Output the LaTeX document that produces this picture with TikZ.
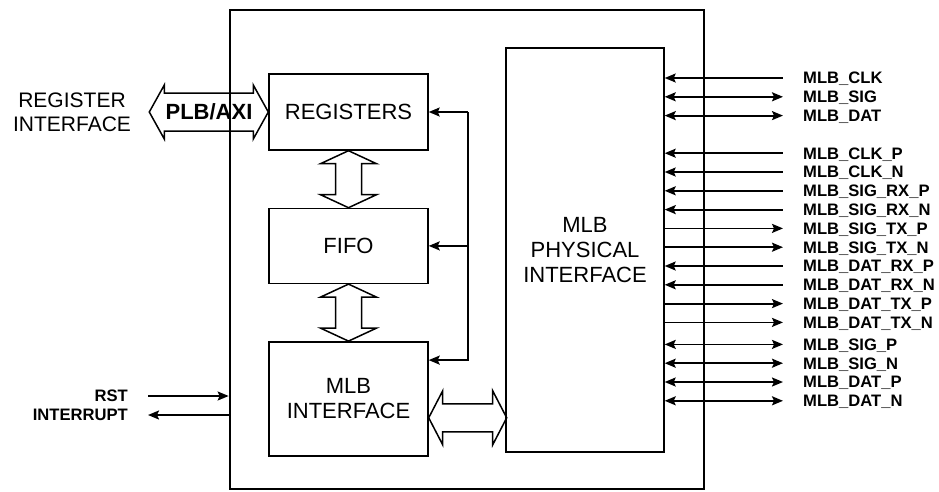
\documentclass[tikz,border=0pt]{standalone}
\usepackage{fontspec}
\setmainfont{Liberation Sans}
\usepackage{tikz}
\usetikzlibrary{arrows.meta,positioning}

\begin{document}
\begin{tikzpicture}[x=1pt, y=-1pt, node distance=18.8pt,
  box/.style={draw, line width=1.4pt, minimum width=159pt, align=center, font=\fontsize{22}{25}\selectfont},
  sig/.style={inner sep=0pt, text height=11.9pt, text depth=0pt, font=\bfseries\fontsize{16.6}{19}\selectfont},
  wire/.style={line width=1.8pt},
  bus/.style={draw, line width=1.5pt, line join=miter},
  >={Stealth[length=11pt, width=9pt, inset=2pt]}]
\useasboundingbox (0,0) rectangle (939,491);
\node[draw, line width=2.7pt, minimum width=474pt, minimum height=479pt] (core) at (467,249.5) {};
\node[box, minimum height=76pt] (reg) at (348.5,112) {REGISTERS};
\node[box, minimum height=75pt, below=57pt of reg] (fifo) {FIFO};
\node[box, minimum height=114pt, below=57pt of fifo] (mlb) {MLB\\INTERFACE};
\node[box, minimum width=158pt, minimum height=404pt] (phy) at (585,250) {MLB\\PHYSICAL\\INTERFACE};
\node[align=center, inner sep=0pt, font=\fontsize{21}{24}\selectfont] (regif) at (72,112) {REGISTER\\INTERFACE};
% bus arrows
\draw[bus] (reg.west) -- ++(-15,-27) -- ++(0,8) -- ++(-89,0) -- ++(0,-8) -- ++(-15,27)
  -- ++(15,27) -- ++(0,-8) -- ++(89,0) -- ++(0,8) -- cycle;
\node[font=\bfseries\fontsize{22}{25}\selectfont, inner sep=0pt] (plb) at (209,112) {PLB/AXI};
\draw[bus] (reg.south) -- ++(28,13) -- ++(-15,0) -- ++(0,31) -- ++(15,0) -- ++(-28,13)
  -- ++(-28,-13) -- ++(15,0) -- ++(0,-31) -- ++(-15,0) -- cycle;
\draw[bus] (fifo.south) -- ++(28,13) -- ++(-15,0) -- ++(0,31) -- ++(15,0) -- ++(-28,13)
  -- ++(-28,-13) -- ++(15,0) -- ++(0,-31) -- ++(-15,0) -- cycle;
\draw[bus] ([yshift=-19pt]mlb.east) -- ++(14,-27) -- ++(0,13) -- ++(50,0) -- ++(0,-13) -- ++(14,27)
  -- ++(-14,27) -- ++(0,-13) -- ++(-50,0) -- ++(0,13) -- cycle;
% control loop back to the blocks
\coordinate[right=39pt of reg.east] (fb);
\draw[wire, ->] (fb) -- (reg.east);
\draw[wire, ->] (fb |- fifo.east) -- (fifo.east);
\draw[wire, ->] (fb) |- ([yshift=-19pt]mlb.north east);
% reset / interrupt
\node[sig, anchor=east] (rst) at (128,396) {RST};
\node[sig, below=19pt of rst.east, anchor=east] (irq) {INTERRUPT};
\draw[wire, ->, shorten <=20pt] (rst.east) -- (rst -| core.west);
\draw[wire, <-, shorten <=20pt] (irq.east) -- (irq -| core.west);
% MLB pins
\node[sig, anchor=west] (sclk) at (803,78) {MLB\_CLK};
\node[sig, below=of sclk.west, anchor=west] (ssig) {MLB\_SIG};
\node[sig, below=of ssig.west, anchor=west] (sdat) {MLB\_DAT};
\node[sig, below=37.6pt of sdat.west, anchor=west] (clkp) {MLB\_CLK\_P};
\node[sig, below=of clkp.west, anchor=west] (clkn) {MLB\_CLK\_N};
\node[sig, below=of clkn.west, anchor=west] (sigrxp) {MLB\_SIG\_RX\_P};
\node[sig, below=of sigrxp.west, anchor=west] (sigrxn) {MLB\_SIG\_RX\_N};
\node[sig, below=of sigrxn.west, anchor=west] (sigtxp) {MLB\_SIG\_TX\_P};
\node[sig, below=of sigtxp.west, anchor=west] (sigtxn) {MLB\_SIG\_TX\_N};
\node[sig, below=of sigtxn.west, anchor=west] (datrxp) {MLB\_DAT\_RX\_P};
\node[sig, below=of datrxp.west, anchor=west] (datrxn) {MLB\_DAT\_RX\_N};
\node[sig, below=of datrxn.west, anchor=west] (dattxp) {MLB\_DAT\_TX\_P};
\node[sig, below=of dattxp.west, anchor=west] (dattxn) {MLB\_DAT\_TX\_N};
\node[sig, below=22pt of dattxn.west, anchor=west] (sigp) {MLB\_SIG\_P};
\node[sig, below=of sigp.west, anchor=west] (sign) {MLB\_SIG\_N};
\node[sig, below=of sign.west, anchor=west] (datp) {MLB\_DAT\_P};
\node[sig, below=of datp.west, anchor=west] (datn) {MLB\_DAT\_N};
\draw[wire, <-, shorten >=20pt] (phy.east |- sclk.west) -- (sclk.west);
\draw[wire, <->, shorten >=20pt] (phy.east |- ssig.west) -- (ssig.west);
\draw[wire, <->, shorten >=20pt] (phy.east |- sdat.west) -- (sdat.west);
\draw[wire, <-, shorten >=20pt] (phy.east |- clkp.west) -- (clkp.west);
\draw[wire, <-, shorten >=20pt] (phy.east |- clkn.west) -- (clkn.west);
\draw[wire, <-, shorten >=20pt] (phy.east |- sigrxp.west) -- (sigrxp.west);
\draw[wire, <-, shorten >=20pt] (phy.east |- sigrxn.west) -- (sigrxn.west);
\draw[wire, ->, shorten >=20pt] (phy.east |- sigtxp.west) -- (sigtxp.west);
\draw[wire, ->, shorten >=20pt] (phy.east |- sigtxn.west) -- (sigtxn.west);
\draw[wire, <-, shorten >=20pt] (phy.east |- datrxp.west) -- (datrxp.west);
\draw[wire, <-, shorten >=20pt] (phy.east |- datrxn.west) -- (datrxn.west);
\draw[wire, ->, shorten >=20pt] (phy.east |- dattxp.west) -- (dattxp.west);
\draw[wire, ->, shorten >=20pt] (phy.east |- dattxn.west) -- (dattxn.west);
\draw[wire, <->, shorten >=20pt] (phy.east |- sigp.west) -- (sigp.west);
\draw[wire, <->, shorten >=20pt] (phy.east |- sign.west) -- (sign.west);
\draw[wire, <->, shorten >=20pt] (phy.east |- datp.west) -- (datp.west);
\draw[wire, <->, shorten >=20pt] (phy.east |- datn.west) -- (datn.west);
\end{tikzpicture}
\end{document}
